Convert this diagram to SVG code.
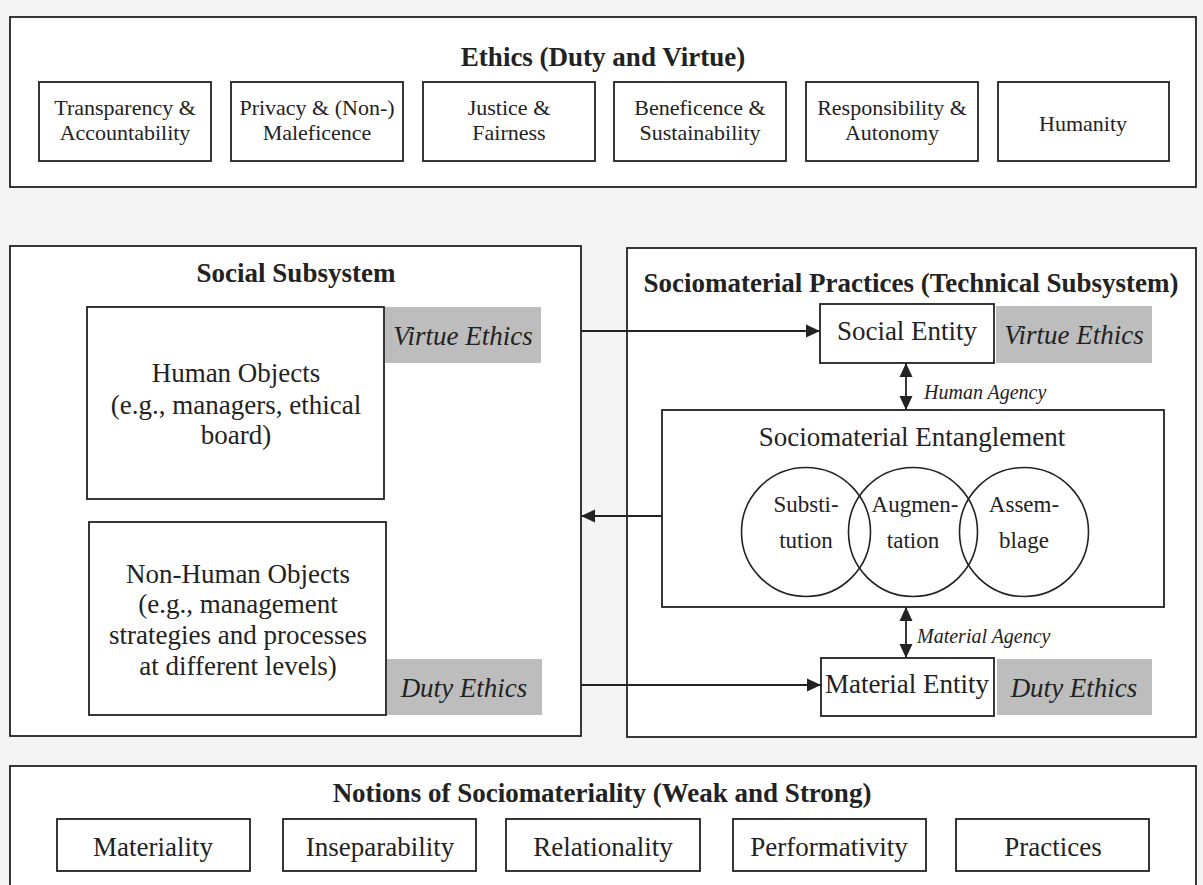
<svg xmlns="http://www.w3.org/2000/svg" width="1203" height="885" viewBox="0 0 1203 885">
<defs>
<style>
.frame{fill:#fff;stroke:#222;stroke-width:1.8}
.box{fill:#fff;stroke:#222;stroke-width:1.8}
.tag{fill:#bdbdbd;stroke:none}
.circ{fill:none;stroke:#222;stroke-width:1.6}
.t{font-family:"Liberation Serif","Times New Roman",serif;fill:#222;text-anchor:middle}
.title{font-size:27px;font-weight:bold}
.s22{font-size:22px}
.s23{font-size:23px}
.s27{font-size:27px}
.it{font-style:italic}
.lab{font-family:"Liberation Serif","Times New Roman",serif;fill:#222;font-style:italic;font-size:20px}
.conn{stroke:#222;stroke-width:1.8;fill:none}
</style>
<marker id="ah" markerUnits="userSpaceOnUse" markerWidth="15" markerHeight="14" refX="14" refY="6.5" orient="auto-start-reverse" viewBox="0 0 15 13">
<path d="M0,0 L14,6.5 L0,13 z" fill="#222"/>
</marker>
</defs>
<rect x="0" y="0" width="1203" height="885" fill="#f4f4f4"/>

<g id="ethics">
<rect class="frame" x="10" y="17" width="1186" height="170"/>
<text class="t title" x="603" y="66">Ethics (Duty and Virtue)</text>
</g>
<g id="transparency">
<rect class="box" x="39" y="82" width="172" height="79"/>
<text class="t s22" x="125" y="115">Transparency &amp;</text>
<text class="t s22" x="125" y="140">Accountability</text>
</g>
<g id="privacy">
<rect class="box" x="231" y="82" width="172" height="79"/>
<text class="t s22" x="317" y="115">Privacy &amp; (Non-)</text>
<text class="t s22" x="317" y="140">Maleficence</text>
</g>
<g id="justice">
<rect class="box" x="423" y="82" width="172" height="79"/>
<text class="t s22" x="509" y="115">Justice &amp;</text>
<text class="t s22" x="509" y="140">Fairness</text>
</g>
<g id="beneficence">
<rect class="box" x="614" y="82" width="172" height="79"/>
<text class="t s22" x="700" y="115">Beneficence &amp;</text>
<text class="t s22" x="700" y="140">Sustainability</text>
</g>
<g id="responsibility">
<rect class="box" x="806" y="82" width="172" height="79"/>
<text class="t s22" x="892" y="115">Responsibility &amp;</text>
<text class="t s22" x="892" y="140">Autonomy</text>
</g>
<g id="humanity">
<rect class="box" x="998" y="82" width="171" height="79"/>
<text class="t s22" x="1083" y="131">Humanity</text>
</g>

<g id="social-subsystem">
<rect class="frame" x="10" y="246" width="571" height="490"/>
<text class="t title" x="296" y="282">Social Subsystem</text>
</g>
<g id="human-objects">
<rect class="box" x="87" y="307" width="297" height="192"/>
<text class="t s27" x="236" y="382">Human Objects</text>
<text class="t s27" x="236" y="414">(e.g., managers, ethical</text>
<text class="t s27" x="236" y="444">board)</text>
</g>
<g id="virtue-left">
<rect class="tag" x="385" y="307" width="156" height="56"/>
<text class="t s27 it" x="463" y="345">Virtue Ethics</text>
</g>
<g id="nonhuman-objects">
<rect class="box" x="89" y="522" width="297" height="193"/>
<text class="t s27" x="238" y="583">Non-Human Objects</text>
<text class="t s27" x="238" y="613">(e.g., management</text>
<text class="t s27" x="238" y="644">strategies and processes</text>
<text class="t s27" x="238" y="675">at different levels)</text>
</g>
<g id="duty-left">
<rect class="tag" x="387" y="659" width="155" height="56"/>
<text class="t s27 it" x="464" y="697">Duty Ethics</text>
</g>

<g id="sociomaterial-practices">
<rect class="frame" x="627" y="248" width="569" height="489"/>
<text class="t title" x="911" y="292">Sociomaterial Practices (Technical Subsystem)</text>
</g>
<g id="social-entity">
<rect class="box" x="820" y="304" width="174" height="59"/>
<text class="t s27" x="907" y="340">Social Entity</text>
</g>
<g id="virtue-right">
<rect class="tag" x="996" y="306" width="156" height="57"/>
<text class="t s27 it" x="1074" y="344">Virtue Ethics</text>
</g>
<g id="entanglement">
<rect class="box" x="662" y="410" width="502" height="197"/>
<text class="t s27" x="912" y="446">Sociomaterial Entanglement</text>
<circle class="circ" cx="806" cy="532" r="64.5"/>
<circle class="circ" cx="913" cy="532" r="64.5"/>
<circle class="circ" cx="1024" cy="532" r="64.5"/>
<text class="t s23" x="806" y="512">Substi-</text>
<text class="t s23" x="806" y="548">tution</text>
<text class="t s23" x="915" y="512">Augmen-</text>
<text class="t s23" x="913" y="548">tation</text>
<text class="t s23" x="1024" y="512">Assem-</text>
<text class="t s23" x="1024" y="548">blage</text>
</g>
<g id="material-entity">
<rect class="box" x="821" y="658" width="173" height="58"/>
<text class="t s27" x="907" y="693">Material Entity</text>
</g>
<g id="duty-right">
<rect class="tag" x="997" y="659" width="155" height="56"/>
<text class="t s27 it" x="1074" y="697">Duty Ethics</text>
</g>

<g id="connectors">
<line class="conn" x1="581" y1="331" x2="820" y2="331" marker-end="url(#ah)"/>
<line class="conn" x1="662" y1="516" x2="581" y2="516" marker-end="url(#ah)"/>
<line class="conn" x1="581" y1="685" x2="821" y2="685" marker-end="url(#ah)"/>
<line class="conn" x1="906" y1="363" x2="906" y2="410" marker-start="url(#ah)" marker-end="url(#ah)"/>
<line class="conn" x1="906" y1="607" x2="906" y2="658" marker-start="url(#ah)" marker-end="url(#ah)"/>
<text class="lab" x="924" y="399">Human Agency</text>
<text class="lab" x="917" y="643">Material Agency</text>
</g>

<g id="notions">
<rect class="frame" x="10" y="766" width="1186" height="130"/>
<text class="t title" x="602" y="802">Notions of Sociomateriality (Weak and Strong)</text>
</g>
<g id="materiality">
<rect class="box" x="57" y="819" width="193" height="52"/>
<text class="t s27" x="153" y="856">Materiality</text>
</g>
<g id="inseparability">
<rect class="box" x="283" y="819" width="193" height="52"/>
<text class="t s27" x="380" y="856">Inseparability</text>
</g>
<g id="relationality">
<rect class="box" x="506" y="819" width="194" height="52"/>
<text class="t s27" x="603" y="856">Relationality</text>
</g>
<g id="performativity">
<rect class="box" x="733" y="819" width="193" height="52"/>
<text class="t s27" x="829" y="856">Performativity</text>
</g>
<g id="practices">
<rect class="box" x="956" y="819" width="193" height="52"/>
<text class="t s27" x="1053" y="856">Practices</text>
</g>
</svg>
